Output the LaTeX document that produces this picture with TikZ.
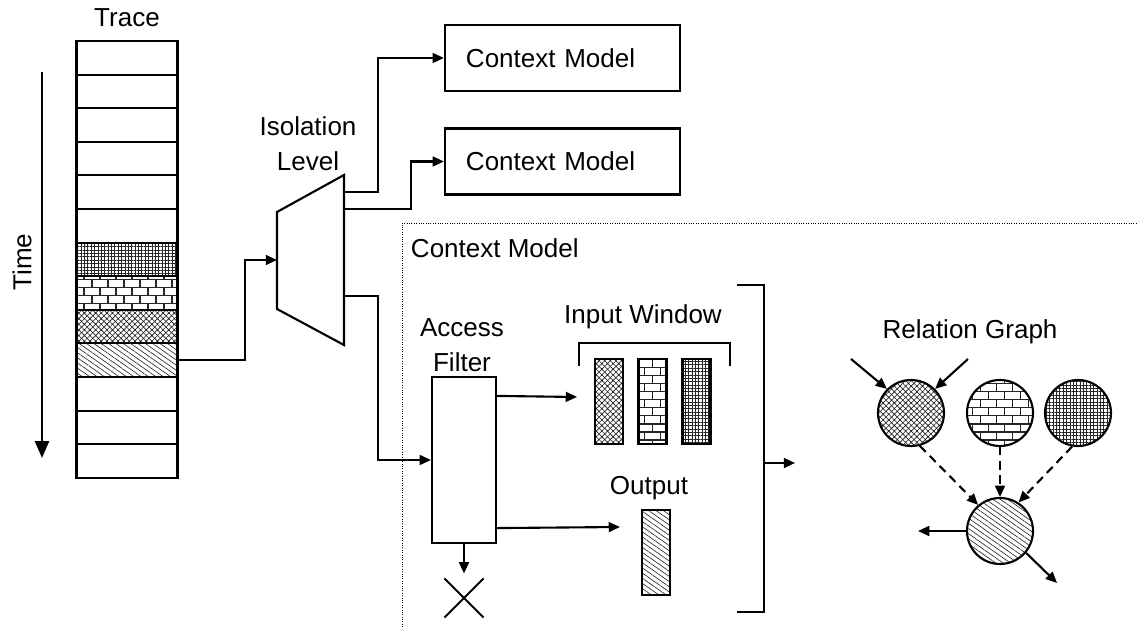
\documentclass[tikz,border=0pt]{standalone}
\usepackage{fontspec}
\setmainfont{Liberation Sans}
\usetikzlibrary{arrows.meta,positioning,shapes.misc,patterns,patterns.meta}
\pgfdeclarepattern{name=diamonds,type=uncolored,
  bottom left={\pgfpoint{-0.5pt}{-0.5pt}},top right={\pgfpoint{4.5pt}{4.5pt}},
  tile size={\pgfpoint{4pt}{4pt}},
  code={\pgfsetlinewidth{0.45pt}
    \pgfpathmoveto{\pgfpoint{-0.5pt}{-0.5pt}}\pgfpathlineto{\pgfpoint{4.5pt}{4.5pt}}
    \pgfpathmoveto{\pgfpoint{-0.5pt}{4.5pt}}\pgfpathlineto{\pgfpoint{4.5pt}{-0.5pt}}
    \pgfusepath{stroke}}}

\begin{document}
\begin{tikzpicture}[x=0.025cm,y=-0.025cm,font=\fontsize{18.5}{25}\selectfont,
  box/.style={draw,line width=1.5pt,inner sep=0pt},
  cellbox/.style={box,minimum width=2.525cm,minimum height=0.84cm},
  barbox/.style={box,minimum width=0.7cm,minimum height=2.125cm},
  cmbox/.style={box,minimum width=5.875cm,minimum height=1.65cm,inner xsep=0.525cm,text width=4.825cm,align=left},
  rnode/.style={box,circle,minimum size=1.65cm},
  wire/.style={line width=1.5pt},
  arr/.style={wire,-{Triangle[length=8pt,width=7pt]}},
  dep/.style={arr,dash pattern=on 6pt off 4pt},
  pgrid/.style={pattern={Hatch[angle=0,distance=2.4pt,line width=0.45pt]},pattern color=black!85},
  pcross/.style={pattern=diamonds,pattern color=black!85},
  pbrick/.style={pattern=bricks,pattern color=black!85},
  pline/.style={pattern={Lines[angle=-35,distance=3pt,line width=0.45pt]},pattern color=black!85}]
\useasboundingbox (0,0) rectangle (1138,628);

% trace
\node (tracelbl) at (127,18) {Trace};
\foreach \i in {0,1,2,3,4,5,10,11,12}
  \node[cellbox] (cell\i) at (127,{57.8+\i*33.6}) {};
\node[cellbox,pgrid] (cell6) at (127,259.4) {};
\node[cellbox,pbrick] (cell7) at (127,293) {};
\node[cellbox,pcross] (cell8) at (127,326.6) {};
\node[cellbox,pline] (cell9) at (127,360.2) {};

% time axis
\coordinate (t0) at (42,72);
\coordinate (t1) at (42,458);
\draw[wire,-{Triangle[length=12pt,width=10pt]}] (t0) -- (t1);
\node[rotate=90] (timelbl) at (22,262) {Time};

% isolation level mux
\draw[wire] (277,212) -- (344,175) -- (344,345) -- (277,309) -- cycle;
\coordinate (muxin) at (277,260);
\coordinate (muxo1) at (344,192);
\coordinate (muxo2) at (344,209);
\coordinate (muxo3) at (344,296);
\node[align=center] (isolbl) at (308,144) {Isolation\\Level};

\node[cmbox] (cm1) at (562.5,58) {Context Model};
\node[cmbox] (cm2) at (562.5,161.5) {Context Model};

\draw[arr] (cell9.east) -- ++(67,0) |- (muxin);
\draw[arr] (muxo1) -- ++(34,0) |- (cm1.west);
\draw[arr] (muxo2) -- ++(67,0) |- (cm2.west);

% expanded context model
\draw[densely dotted,line width=0.7pt] (402,632) -- (402,223) -- (1142,223);
\node[anchor=west] (cmlbl) at (406,248) {Context Model};

\node[box,minimum width=1.6cm,minimum height=4.15cm] (filter) at (464,460) {};
\node[align=center] (filterlbl) at (462,345) {Access\\Filter};
\draw[arr] (muxo3) -- ++(34,0) |- (filter.west);

\coordinate (winin) at (577,397);
\coordinate (outin) at (620,527);
\draw[arr] ([yshift=-0.5cm]filter.north east) -- (winin);
\draw[arr] ([yshift=0.4cm]filter.south east) -- (outin);
\node[draw,cross out,line width=1.5pt,inner sep=0pt,minimum size=0.925cm] (drop) at (464,598) {};
\draw[arr] (filter.south) -- ([yshift=0.125cm]drop.north);

\node (winlbl) at (643,317) {Input Window};
\draw[wire] (579,366) -- (579,343) -- (730,343) -- (730,366);
\node[barbox,pcross] (bar1) at (609,401.5) {};
\node[barbox,pbrick] (bar2) at (652.5,401.5) {};
\node[barbox,pgrid] (bar3) at (696.5,401.5) {};

\node (outlbl) at (649,488) {Output};
\node[barbox,pline] (outbar) at (656,552.5) {};

\draw[wire] (737,285) -- (764,285) -- (764,612) -- (737,612);
\coordinate (cmout) at (764,463);
\coordinate (rgin) at (795,463);
\draw[arr] (cmout) -- (rgin);

% relation graph
\node (rglbl) at (970,332) {Relation Graph};
\node[rnode,pcross] (r1) at (911,413) {};
\node[rnode,pbrick] (r2) at (1000,413) {};
\node[rnode,pgrid] (r3) at (1078,413) {};
\node[rnode,pline] (r4) at (1000,531) {};
\coordinate (a1) at (851,359);
\coordinate (a2) at (968,359);
\draw[arr] (a1) -- (r1.135);
\draw[arr] (a2) -- (r1.45);
\draw[dep] (r1.-75) -- (r4.130);
\draw[dep] (r2.south) -- (r4.north);
\draw[dep] (r3.-100) -- (r4.57);
\coordinate (b1) at (918,531);
\coordinate (b2) at (1057,583);
\draw[arr] (r4.west) -- (b1);
\draw[arr] (r4.-40) -- (b2);
\end{tikzpicture}
\end{document}
